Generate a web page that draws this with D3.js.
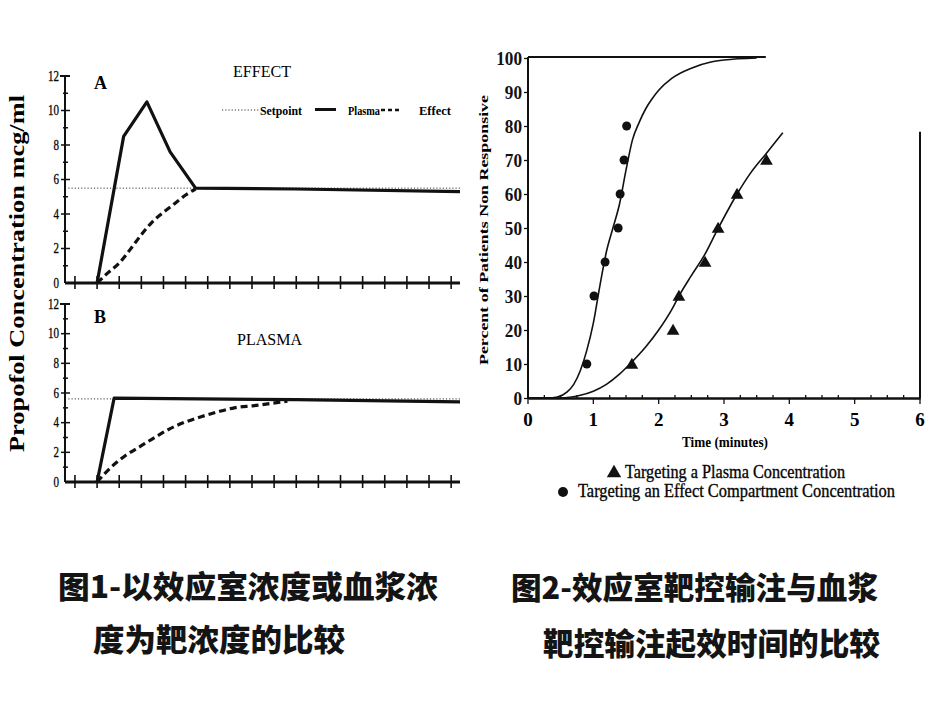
<!DOCTYPE html>
<html>
<head>
<meta charset="utf-8">
<script src="https://cdn.jsdelivr.net/npm/d3@7"></script>
<style>
  body { margin: 0; background: #fff; }
  svg { display: block; }
</style>
</head>
<body>
<div id="chart"></div>
<script>
// ---- left figure (panels A and B): minutes vs propofol concentration ----
const concTicks = [0, 2, 4, 6, 8, 10, 12];
const timeTicksLeft = d3.range(0, 18);
const setpointA = 5.5;
const setpointB = 5.6;
const plasmaA = [[1, 0], [2.2, 8.5], [3.25, 10.5], [4.3, 7.6], [5.45, 5.5], [10, 5.45], [17.4, 5.3]];
const effectA = [[1, 0], [1.5, 0.6], [2, 1.15], [2.5, 1.95], [3, 2.8], [3.5, 3.55], [4, 4.1], [4.5, 4.6], [5, 5.1], [5.45, 5.45]];
const plasmaB = [[1, 0], [1.77, 5.65], [10, 5.55], [17.4, 5.4]];
const effectB = [[1, 0], [1.6, 0.95], [2.3, 1.8], [2.95, 2.4], [3.6, 3.0], [4.3, 3.6], [5, 4.05], [5.7, 4.4], [6.5, 4.75], [7.2, 5.0], [8.1, 5.15], [9.6, 5.45]];

// ---- right figure: time vs percent of patients non responsive ----
const timeTicksRight = [0, 1, 2, 3, 4, 5, 6];
const pctTicks = [0, 10, 20, 30, 40, 50, 60, 70, 80, 90, 100];
const effectFit = [[0, 0], [0.3, 0], [0.45, 0.3], [0.6, 1.8], [0.7, 4], [0.8, 8], [0.9, 14], [1.0, 22], [1.1, 33], [1.2, 43], [1.3, 50], [1.4, 57], [1.5, 67], [1.6, 76], [1.7, 81], [1.8, 85], [1.9, 88], [2.0, 90.5], [2.2, 94], [2.5, 97], [2.8, 98.8], [3.0, 99.4], [3.5, 100]];
const plasmaFit = [[0, 0], [0.5, 0], [0.8, 0.8], [1.0, 2], [1.2, 4], [1.4, 7], [1.56, 10], [1.8, 15], [2.0, 20], [2.2, 26], [2.31, 30], [2.5, 36], [2.7, 42], [2.9, 49.5], [3.2, 60], [3.4, 66], [3.65, 72], [3.9, 78]];
const effectPoints = [[0.9, 10], [1.01, 30], [1.18, 40], [1.38, 50], [1.41, 60], [1.47, 70], [1.51, 80]];
const plasmaPoints = [[1.59, 10], [2.22, 20], [2.31, 30], [2.71, 40], [2.91, 50], [3.2, 60], [3.65, 70]];

const captionLeft = ['图1-以效应室浓度或血浆浓', '度为靶浓度的比较'];
const captionRight = ['图2-效应室靶控输注与血浆', '靶控输注起效时间的比较'];

const width = 950, height = 713;
const serif = '"Liberation Serif", "DejaVu Serif", serif';

const svg = d3.select('#chart').append('svg').attr('width', width).attr('height', height);

// ================= left panels =================
const xL = d3.scaleLinear().domain([-0.45, 17.4]).range([65, 460]);
const yA = d3.scaleLinear().domain([0, 12]).range([283, 76]);
const yB = d3.scaleLinear().domain([0, 12]).range([482, 304]);

function drawPanel(y, plasma, effect, setpoint) {
  const g = svg.append('g');
  const x0 = xL.range()[0], x1 = xL.range()[1];

  // y axis with a tick every unit, labels on even values
  g.append('line').attr('x1', x0).attr('x2', x0).attr('y1', y(0)).attr('y2', y(12))
    .attr('stroke', '#111').attr('stroke-width', 2);
  g.append('line').attr('x1', x0 - 5).attr('x2', x0 + 5).attr('y1', y(12)).attr('y2', y(12))
    .attr('stroke', '#111').attr('stroke-width', 2);
  g.selectAll('.ytick').data(d3.range(1, 12)).enter().append('line')
    .attr('x1', d => d % 2 === 0 ? x0 - 4 : x0 - 2).attr('x2', d => d % 2 === 0 ? x0 + 5 : x0 + 3)
    .attr('y1', d => y(d)).attr('y2', d => y(d))
    .attr('stroke', '#111').attr('stroke-width', 1.5);
  g.selectAll('.ylab').data(concTicks).enter().append('text')
    .attr('x', x0 - 6).attr('y', d => y(d) + 4.5)
    .attr('text-anchor', 'end').attr('font-family', serif).attr('font-size', 14)
    .attr('textLength', d => String(d).length * 5.5).attr('lengthAdjust', 'spacingAndGlyphs')
    .attr('stroke', '#111').attr('stroke-width', 0.3)
    .text(d => d);

  // x axis: heavy line with crossing ticks
  g.append('line').attr('x1', x0).attr('x2', x1).attr('y1', y(0)).attr('y2', y(0))
    .attr('stroke', '#111').attr('stroke-width', 3);
  g.selectAll('.xtick').data(timeTicksLeft).enter().append('line')
    .attr('x1', d => xL(d)).attr('x2', d => xL(d)).attr('y1', y(0) - 7).attr('y2', y(0) + 6)
    .attr('stroke', '#111').attr('stroke-width', 1.6);

  // setpoint (dotted), effect (dashed), plasma (solid)
  g.append('line').attr('x1', xL(-0.3)).attr('x2', x1).attr('y1', y(setpoint)).attr('y2', y(setpoint))
    .attr('stroke', '#333').attr('stroke-width', 1).attr('stroke-dasharray', '1.2,2');
  const line = d3.line().x(d => xL(d[0])).y(d => y(d[1]));
  g.append('path').datum(effect).attr('d', line.curve(d3.curveMonotoneX))
    .attr('fill', 'none').attr('stroke', '#111').attr('stroke-width', 3.2).attr('stroke-dasharray', '7,4');
  g.append('path').datum(plasma).attr('d', line.curve(d3.curveLinear))
    .attr('fill', 'none').attr('stroke', '#111').attr('stroke-width', 3.2).attr('stroke-linejoin', 'round');
  return g;
}

const gA = drawPanel(yA, plasmaA, effectA, setpointA);
const gB = drawPanel(yB, plasmaB, effectB, setpointB);

gA.append('text').attr('x', 94).attr('y', 89).attr('font-family', serif).attr('font-weight', 'bold')
  .attr('font-size', 18).text('A');
gB.append('text').attr('x', 94).attr('y', 323).attr('font-family', serif).attr('font-weight', 'bold')
  .attr('font-size', 18).text('B');
gA.append('text').attr('x', 233).attr('y', 77).attr('font-family', serif).attr('font-size', 16)
  .attr('textLength', 58).attr('lengthAdjust', 'spacingAndGlyphs').text('EFFECT');
gB.append('text').attr('x', 237).attr('y', 345).attr('font-family', serif).attr('font-size', 17)
  .attr('textLength', 65).attr('lengthAdjust', 'spacingAndGlyphs').text('PLASMA');

// legend of panel A
const lg = gA.append('g').attr('font-family', serif).attr('font-weight', 'bold').attr('font-size', 12);
lg.append('line').attr('x1', 222).attr('x2', 259).attr('y1', 110).attr('y2', 110)
  .attr('stroke', '#333').attr('stroke-width', 1).attr('stroke-dasharray', '1.2,2');
lg.append('text').attr('x', 260).attr('y', 115).attr('textLength', 42).attr('lengthAdjust', 'spacingAndGlyphs').text('Setpoint');
lg.append('line').attr('x1', 315).attr('x2', 336).attr('y1', 109.5).attr('y2', 109.5)
  .attr('stroke', '#111').attr('stroke-width', 3);
lg.append('text').attr('x', 348).attr('y', 115).attr('textLength', 32).attr('lengthAdjust', 'spacingAndGlyphs').text('Plasma');
lg.append('line').attr('x1', 381).attr('x2', 399).attr('y1', 110).attr('y2', 110)
  .attr('stroke', '#111').attr('stroke-width', 2.5).attr('stroke-dasharray', '4,3');
lg.append('text').attr('x', 419).attr('y', 115).attr('textLength', 32).attr('lengthAdjust', 'spacingAndGlyphs').text('Effect');

// shared y label
svg.append('text').attr('transform', 'translate(24,452) rotate(-90)')
  .attr('font-family', serif).attr('font-weight', 'bold').attr('font-size', 20)
  .attr('textLength', 357).attr('lengthAdjust', 'spacingAndGlyphs')
  .text('Propofol Concentration mcg/ml');

// ================= right chart =================
const xR = d3.scaleLinear().domain([0, 6]).range([528, 920]);
const yR = d3.scaleLinear().domain([0, 100]).range([398, 58]);
const gR = svg.append('g');

// frame pieces (top and right parts are partly missing in the scan)
gR.append('line').attr('x1', xR(0)).attr('x2', xR(0)).attr('y1', yR(0)).attr('y2', yR(100) - 1)
  .attr('stroke', '#111').attr('stroke-width', 2);
gR.append('line').attr('x1', xR(0)).attr('x2', xR(3.64)).attr('y1', yR(100) - 1).attr('y2', yR(100) - 1)
  .attr('stroke', '#111').attr('stroke-width', 2.2);
gR.append('line').attr('x1', xR(6)).attr('x2', xR(6)).attr('y1', yR(78.3)).attr('y2', yR(0))
  .attr('stroke', '#111').attr('stroke-width', 2);

const xAxisR = d3.axisBottom(xR).tickValues(d3.range(0, 6.01, 0.25)).tickSize(0).tickFormat('');
gR.append('g').attr('transform', `translate(0,${yR(0)})`).call(xAxisR)
  .call(g => g.select('.domain').attr('stroke', '#111').attr('stroke-width', 2.5));
gR.selectAll('.xminor').data(d3.range(0, 6.01, 0.25)).enter().append('line')
  .attr('x1', d => xR(d)).attr('x2', d => xR(d))
  .attr('y1', yR(0)).attr('y2', d => Number.isInteger(d) ? yR(0) + 6 : yR(0) - 3)
  .attr('stroke', '#111').attr('stroke-width', 1.3);
gR.selectAll('.xlab').data(timeTicksRight).enter().append('text')
  .attr('x', d => xR(d)).attr('y', 426).attr('text-anchor', 'middle')
  .attr('font-family', serif).attr('font-weight', 'bold').attr('font-size', 19)
  .text(d => d);

const yAxisR = d3.axisLeft(yR).tickValues(pctTicks).tickSize(4).tickPadding(2);
gR.append('g').attr('transform', `translate(${xR(0)},0)`).call(yAxisR)
  .call(g => g.select('.domain').remove())
  .call(g => g.selectAll('.tick line').attr('stroke', '#111').attr('stroke-width', 1.3))
  .call(g => g.selectAll('.tick text').attr('font-family', serif).attr('font-weight', 'bold')
    .attr('font-size', 19).attr('fill', '#111').attr('textLength', function(d) { return String(d).length * 8.6; })
    .attr('lengthAdjust', 'spacingAndGlyphs'));

const curve = d3.line().x(d => xR(d[0])).y(d => yR(d[1])).curve(d3.curveMonotoneX);
gR.append('path').datum(effectFit).attr('d', curve)
  .attr('fill', 'none').attr('stroke', '#111').attr('stroke-width', 1.6);
gR.append('path').datum(plasmaFit).attr('d', curve)
  .attr('fill', 'none').attr('stroke', '#111').attr('stroke-width', 1.6);

gR.selectAll('.dotE').data(effectPoints).enter().append('circle')
  .attr('cx', d => xR(d[0])).attr('cy', d => yR(d[1])).attr('r', 4.5).attr('fill', '#111');
const tri = d3.symbol().type(d3.symbolTriangle).size(70);
gR.selectAll('.triP').data(plasmaPoints).enter().append('path')
  .attr('transform', d => `translate(${xR(d[0])},${yR(d[1]) + 1})`).attr('d', tri).attr('fill', '#111');

gR.append('text').attr('x', 682).attr('y', 447).attr('font-family', serif).attr('font-weight', 'bold')
  .attr('font-size', 15).attr('textLength', 86).attr('lengthAdjust', 'spacingAndGlyphs').text('Time (minutes)');
gR.append('text').attr('transform', 'translate(488,365) rotate(-90)')
  .attr('font-family', serif).attr('font-weight', 'bold').attr('font-size', 12.5)
  .attr('textLength', 270).attr('lengthAdjust', 'spacingAndGlyphs')
  .text('Percent of Patients Non Responsive');

// legend
gR.append('path').attr('transform', 'translate(614,473)').attr('d', d3.symbol().type(d3.symbolTriangle).size(90)).attr('fill', '#111');
gR.append('text').attr('x', 625).attr('y', 478).attr('font-family', serif).attr('font-size', 18)
  .attr('stroke', '#111').attr('stroke-width', 0.35)
  .attr('textLength', 220).attr('lengthAdjust', 'spacingAndGlyphs').text('Targeting a Plasma Concentration');
gR.append('circle').attr('cx', 563).attr('cy', 492).attr('r', 5).attr('fill', '#111');
gR.append('text').attr('x', 578).attr('y', 497).attr('font-family', serif).attr('font-size', 18)
  .attr('stroke', '#111').attr('stroke-width', 0.35)
  .attr('textLength', 317).attr('lengthAdjust', 'spacingAndGlyphs').text('Targeting an Effect Compartment Concentration');

// ================= captions =================
const cjk = '"Noto Sans CJK SC", "Noto Sans", sans-serif';
const cap = svg.append('g').attr('font-family', cjk).attr('font-weight', 900).attr('font-size', 31).attr('fill', '#141414');
cap.append('text').attr('x', 58).attr('y', 598).attr('textLength', 380).attr('lengthAdjust', 'spacingAndGlyphs').text(captionLeft[0]);
cap.append('text').attr('x', 93).attr('y', 651).attr('textLength', 252).attr('lengthAdjust', 'spacingAndGlyphs').text(captionLeft[1]);
cap.append('text').attr('x', 511).attr('y', 599).attr('textLength', 367).attr('lengthAdjust', 'spacingAndGlyphs').text(captionRight[0]);
cap.append('text').attr('x', 543).attr('y', 655).attr('textLength', 337).attr('lengthAdjust', 'spacingAndGlyphs').text(captionRight[1]);
</script>
</body>
</html>
